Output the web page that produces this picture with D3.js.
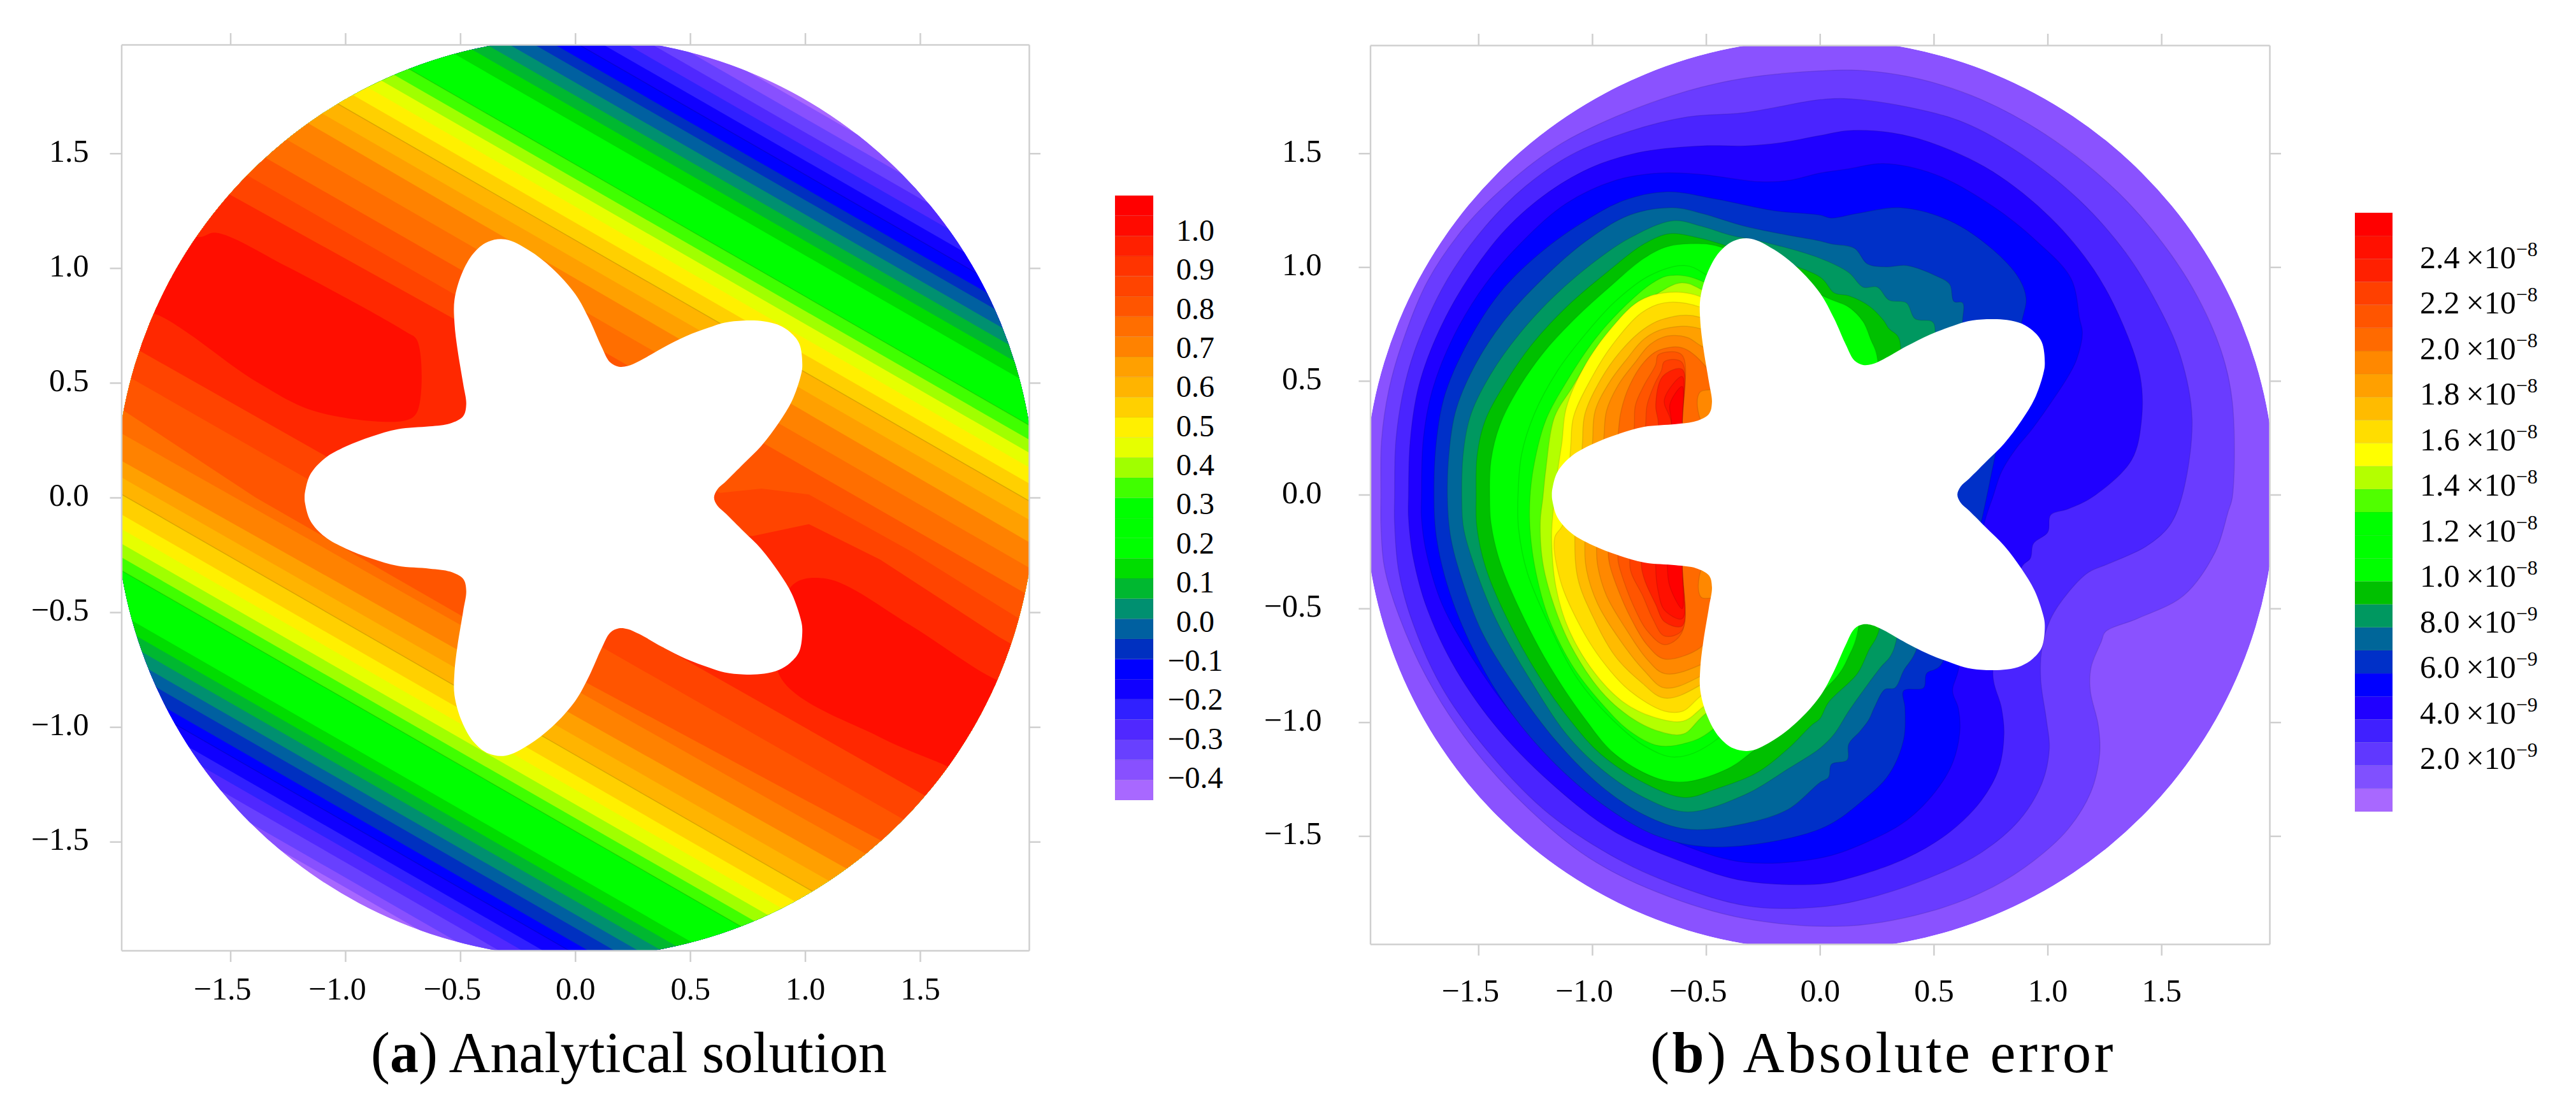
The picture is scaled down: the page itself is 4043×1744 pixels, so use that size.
<!DOCTYPE html>
<html>
<head>
<meta charset="utf-8">
<script src="https://cdn.jsdelivr.net/npm/d3@7"></script>
<style>
body { margin: 0; background: #fff; }
text { font-family: "Liberation Serif", serif; fill: #000; }
</style>
</head>
<body>
<svg id="chart" width="4043" height="1744"></svg>
<script>
const tickValues = [-1.5, -1.0, -0.5, 0.0, 0.5, 1.0, 1.5]

// hole in the domain, outline, in plot units
const star = [[.604,0],[.618,.035],[.656,.071],[.733,.148],[.809,.224],[.886,.326],[.943,.421],[.981,.53],[.988,.575],[.975,.67],[.936,.72],[.885,.752],[.822,.768],[.733,.771],[.65,.762],[.583,.741],[.482,.703],[.38,.652],[.279,.595],[.228,.573],[.19,.57],[.152,.589],[.114,.659],[.063,.773],[0,.887],[-.1,.999],[-.201,1.077],[-.303,1.125],[-.379,1.115],[-.442,1.065],[-.493,.976],[-.525,.862],[-.525,.76],[-.512,.646],[-.487,.494],[-.474,.406],[-.487,.355],[-.544,.323],[-.633,.31],[-.772,.298],[-.886,.266],[-.999,.222],[-1.089,.171],[-1.152,.101],[-1.175,.025],[-1.177,0],
    [-1.175,-.025],[-1.152,-.101],[-1.089,-.171],[-.999,-.222],[-.886,-.266],[-.772,-.298],[-.633,-.31],[-.544,-.323],[-.487,-.355],[-.474,-.406],[-.487,-.494],[-.512,-.646],[-.525,-.76],[-.525,-.862],[-.493,-.976],[-.442,-1.065],[-.379,-1.115],[-.303,-1.125],[-.201,-1.077],[-.1,-.999],[0,-.887],[.063,-.773],[.114,-.659],[.152,-.589],[.19,-.57],[.228,-.573],[.279,-.595],[.38,-.652],[.482,-.703],[.583,-.741],[.65,-.762],[.733,-.771],[.822,-.768],[.885,-.752],[.936,-.72],[.975,-.67],[.988,-.575],[.981,-.53],[.943,-.421],[.886,-.326],[.809,-.224],[.733,-.148],[.656,-.071],[.618,-.035]]

// panel a: colour bar, bottom cell first
const barAColors = ["#a868ff","#8850ff","#6840ff","#5028ff","#3020ff","#1000ff","#0000ff","#0030c0","#0060a0","#009070","#00b830","#00dd00","#00ff00","#00ff00","#00ff00","#40ff00","#a0ff00","#e6ff00","#fff000","#ffd000","#ffb400","#ffa000","#ff8200","#ff6e00","#ff5500","#ff4400","#ff3400","#ff2000","#ff0a00","#ff0000"]
const barALabels = [1.0, 0.9, 0.8, 0.7, 0.6, 0.5, 0.4, 0.3, 0.2, 0.1, 0.0, -0.1, -0.2, -0.3, -0.4]

// panel a: the field is a ridge, each level is the strip between an upper and a lower contour
const aColors = ["#8850ff","#6840ff","#5028ff","#3020ff","#1000ff","#0000ff","#0030c0","#0060a0","#009070","#00b830","#00dd00","#00ff00","#40ff00","#a0ff00","#e6ff00","#fff000","#ffd000","#ffb400","#ffa000","#ff8200","#ff6e00","#ff5500","#ff4400","#ff2800"]
const aUpper = [
    [[-2.3,3.613],[2.3,.965]],
    [[-2.3,3.552],[2.3,.904]],
    [[-2.3,3.491],[2.3,.843]],
    [[-2.3,3.429],[2.3,.781]],
    [[-2.3,3.368],[2.3,.72]],
    [[-2.3,3.307],[2.3,.659]],
    [[-2.3,3.247],[2.3,.599]],
    [[-2.3,3.196],[2.3,.548]],
    [[-2.3,3.133],[2.3,.485]],
    [[-2.3,3.076],[2.3,.428]],
    [[-2.3,3.018],[2.3,.37]],
    [[-2.3,2.955],[2.3,.307]],
    [[-2.3,2.776],[2.3,.128]],
    [[-2.3,2.713],[2.3,.065]],
    [[-2.3,2.656],[2.3,.008]],
    [[-2.3,2.592],[2.3,-.056]],
    [[-2.3,2.522],[2.3,-.126]],
    [[-2.3,2.446],[2.3,-.202]],
    [[-2.3,2.364],[2.3,-.284]],
    [[-2.3,2.294],[2.3,-.384]],
    [[-2.3,2.164],[2.3,-.494]],
    [[-2.3,2.028],[2.3,-.614]],
    [[-2.3,1.907],[-.5,.871],[-.2,.5],[.63,.02],[.811,.039],[1.017,.013],[1.456,-.232],[1.933,-.529],[2.3,-.74]],
    [[-2.3,1.764],[-.519,.774],[-.2,.4],[.5,-.15],[.772,-.168],[1.017,-.116],[1.327,-.271],[1.843,-.607],[2.3,-.87]]
]
const aLower = [
    [[2.3,-3.599],[-2.3,-.951]],
    [[2.3,-3.556],[-2.3,-.908]],
    [[2.3,-3.489],[-2.3,-.841]],
    [[2.3,-3.431],[-2.3,-.783]],
    [[2.3,-3.379],[-2.3,-.731]],
    [[2.3,-3.314],[-2.3,-.666]],
    [[2.3,-3.266],[-2.3,-.618]],
    [[2.3,-3.2],[-2.3,-.552]],
    [[2.3,-3.141],[-2.3,-.493]],
    [[2.3,-3.082],[-2.3,-.434]],
    [[2.3,-3.026],[-2.3,-.378]],
    [[2.3,-2.97],[-2.3,-.322]],
    [[2.3,-2.778],[-2.3,-.13]],
    [[2.3,-2.721],[-2.3,-.073]],
    [[2.3,-2.661],[-2.3,-.013]],
    [[2.3,-2.597],[-2.3,.051]],
    [[2.3,-2.534],[-2.3,.114]],
    [[2.3,-2.446],[-2.3,.202]],
    [[2.3,-2.354],[-2.3,.274]],
    [[2.3,-2.248],[-2.3,.344]],
    [[2.3,-2.139],[-2.3,.464]],
    [[2.3,-2.016],[-.5,-.512],[-1.39,0],[-2.3,.601]],
    [[2.3,-1.902],[-2.3,.731]],
    [[2.3,-1.741],[-2.3,.87]]
]
// contours that show as a thin dark line in the reference
const aThinLines = [5, 12, 17]
const aPeaks = [
    [[-1.642,1.136],[-1.564,1.154],[-1.255,1.007],[-.738,.723],[-.687,.684],[-.687,.374],[-.738,.336],[-1.125,.374],[-1.384,.503],[-1.797,.787],[-2.1,.9],[-1.9,1.3]],
    [[1.817,-.787],[1.456,-.555],[1.094,-.354],[.94,-.387],[.888,-.774],[1.327,-1.045],[1.598,-1.162],[1.9,-1.3],[2.1,-.9]]
]
const aPeakColor = "#ff0e00"

// panel b: colour bar, bottom cell first
const barBColors = ["#a868ff","#8050ff","#6038ff","#4020ff","#2000ff","#0000ff","#0030c8","#006699","#009860","#00c000","#00ff00","#00ff00","#00ff00","#50ff00","#b4ff00","#ffff00","#ffdd00","#ffbb00","#ffa000","#ff8800","#ff6a00","#ff5500","#ff4000","#ff2000","#ff1000","#ff0000"]
const barBValues = [2.4e-8, 2.2e-8, 2.0e-8, 1.8e-8, 1.6e-8, 1.4e-8, 1.2e-8, 1.0e-8, 8.0e-9, 6.0e-9, 4.0e-9, 2.0e-9]
const barBMantissa = ["2.4", "2.2", "2.0", "1.8", "1.6", "1.4", "1.2", "1.0", "8.0", "6.0", "4.0", "2.0"]
const barBExponent = ["−8", "−8", "−8", "−8", "−8", "−8", "−8", "−8", "−9", "−9", "−9", "−9"]

// panel b: closed contours, coldest first. Where a contour meets the hole it runs on under it
const bColors = ["#6a3cff","#4a24ff","#2000ff","#0000ff","#0030c8","#006699","#009860","#00c000","#00ff00","#00ff00","#50ff00","#b4ff00","#ffff00","#ffdd00","#ffbb00","#ffa000","#ff8800","#ff6a00","#ff5500","#ff4000","#ff2000","#ff1000","#ff0000"]
const bContours = [
    [[-1.928,-.01],[-1.925,.241],[-1.894,.456],[-1.837,.659],[-1.723,.938],[-1.558,1.179],[-1.368,1.369],[-1.152,1.533],[-.899,1.66],[-.582,1.774],[-.328,1.831],[.011,1.863],[.203,1.863],[.444,1.825],[.71,1.736],[.989,1.584],[1.267,1.369],[1.458,1.166],[1.635,.912],[1.762,.634],[1.812,.405],[1.812,-.01],[1.793,-.076],[1.736,-.253],[1.597,-.444],[1.394,-.545],[1.255,-.602],[1.236,-.646],[1.191,-.76],[1.188,-.862],[1.223,-1.014],[1.229,-1.141],[1.191,-1.305],[1.09,-1.47],[.938,-1.61],[.76,-1.724],[.507,-1.825],[.127,-1.895],[-.328,-1.863],[-.709,-1.749],[-1.013,-1.597],[-1.279,-1.381],[-1.532,-1.103],[-1.723,-.811],[-1.849,-.532],[-1.913,-.317],[-1.928,-.127]],
    [[-1.868,-.01],[-1.862,.241],[-1.824,.481],[-1.761,.684],[-1.634,.95],[-1.469,1.179],[-1.292,1.356],[-1.089,1.495],[-.835,1.597],[-.582,1.66],[-.328,1.679],[0,1.736],[.127,1.74],[.38,1.705],[.634,1.635],[.887,1.495],[1.141,1.293],[1.343,1.064],[1.483,.836],[1.584,.608],[1.635,.329],[1.59,-.01],[1.534,-.139],[1.432,-.228],[1.267,-.304],[1.179,-.342],[1.09,-.431],[1.014,-.545],[.976,-.672],[.97,-.811],[.995,-.989],[1.008,-1.115],[.976,-1.267],[.875,-1.432],[.71,-1.572],[.507,-1.673],[.253,-1.762],[0,-1.812],[-.328,-1.806],[-.709,-1.686],[-.962,-1.559],[-1.216,-1.381],[-1.469,-1.115],[-1.659,-.849],[-1.786,-.57],[-1.849,-.342],[-1.868,-.127]],
    [[-1.807,-.01],[-1.799,.241],[-1.761,.481],[-1.672,.722],[-1.545,.95],[-1.38,1.166],[-1.19,1.331],[-.987,1.445],[-.772,1.508],[-.518,1.533],[-.328,1.533],[-.176,1.546],[0,1.578],[.127,1.6],[.317,1.59],[.507,1.54],[.76,1.419],[1.014,1.216],[1.204,.988],[1.331,.748],[1.407,.52],[1.413,.329],[1.369,.152],[1.198,-.01],[1.09,-.063],[1.014,-.089],[1.001,-.165],[.938,-.215],[.925,-.279],[.887,-.317],[.76,-.78],[.798,-.938],[.809,-1.052],[.786,-1.204],[.71,-1.343],[.57,-1.483],[.38,-1.597],[.127,-1.686],[0,-1.711],[-.328,-1.698],[-.582,-1.622],[-.899,-1.483],[-1.152,-1.293],[-1.406,-1.039],[-1.596,-.773],[-1.723,-.507],[-1.786,-.279],[-1.807,-.101]],
    [[-1.75,-.01],[-1.742,.241],[-1.703,.456],[-1.608,.697],[-1.469,.925],[-1.304,1.115],[-1.114,1.28],[-.899,1.381],[-.708,1.413],[-.518,1.407],[-.265,1.375],[-.138,1.381],[0,1.413],[.127,1.432],[.279,1.455],[.507,1.407],[.76,1.267],[.951,1.115],[1.103,.95],[1.141,.773],[1.153,.71],[1.128,.595],[1.09,.519],[.989,.367],[.925,.279],[.862,.203],[.798,.101],[.76,-.01],[.722,-.127],[.608,-.773],[.583,-.862],[.608,-.938],[.615,-1.039],[.583,-1.179],[.507,-1.305],[.38,-1.432],[.19,-1.534],[0,-1.597],[-.328,-1.616],[-.582,-1.546],[-.835,-1.42],[-1.089,-1.242],[-1.342,-.976],[-1.532,-.71],[-1.659,-.482],[-1.729,-.253],[-1.75,-.101]],
    [[-1.695,-.01],[-1.684,.241],[-1.646,.443],[-1.545,.672],[-1.406,.887],[-1.241,1.052],[-1.051,1.191],[-.861,1.293],[-.67,1.331],[-.455,1.299],[-.2,1.248],[0,1.229],[.05,1.216],[.165,1.236],[.355,1.261],[.57,1.204],[.76,1.077],[.875,.95],[.906,.862],[.887,.76],[.532,-.748],[.469,-.786],[.456,-.849],[.368,-.862],[.374,-.938],[.368,-1.077],[.304,-1.229],[.19,-1.343],[0,-1.47],[-.455,-1.549],[-.709,-1.502],[-.962,-1.356],[-1.216,-1.128],[-1.406,-.887],[-1.545,-.634],[-1.634,-.406],[-1.684,-.19]],
    [[-1.636,-.01],[-1.627,.203],[-1.596,.38],[-1.507,.583],[-1.38,.773],[-1.216,.95],[-1.026,1.115],[-.835,1.229],[-.645,1.261],[-.518,1.236],[-.328,1.179],[-.138,1.14],[0,1.115],[.05,1.102],[.152,1.083],[.209,1.014],[.292,1.001],[.38,1.007],[.507,.963],[.57,.925],[.589,.849],[.627,.843],[.627,.767],[.425,-.678],[.368,-.773],[.33,-.849],[.285,-.856],[.241,-.932],[.215,-.989],[.177,-1.039],[.127,-1.096],[.12,-1.166],[.051,-1.185],[.038,-1.242],[0,-1.265],[-.138,-1.382],[-.328,-1.445],[-.582,-1.47],[-.772,-1.407],[-.962,-1.28],[-1.152,-1.09],[-1.342,-.837],[-1.482,-.608],[-1.57,-.38],[-1.621,-.19]],
    [[-1.573,-.01],[-1.564,.203],[-1.532,.355],[-1.444,.532],[-1.317,.71],[-1.165,.874],[-.987,1.026],[-.835,1.128],[-.645,1.204],[-.518,1.179],[-.392,1.14],[-.265,1.115],[0,1.039],[.127,.976],[.19,.912],[.253,.912],[.304,.855],[.38,.843],[.418,.773],[.494,.76],[.507,.716],[.336,-.64],[.31,-.71],[.266,-.76],[.19,-.862],[.127,-.951],[.063,-1.052],[0,-1.115],[-.138,-1.204],[-.328,-1.318],[-.582,-1.394],[-.772,-1.331],[-.962,-1.204],[-1.114,-1.052],[-1.266,-.824],[-1.418,-.558],[-1.507,-.342],[-1.564,-.152]],
    [[-1.51,-.01],[-1.505,.177],[-1.469,.329],[-1.38,.494],[-1.266,.659],[-1.114,.824],[-.937,.976],[-.772,1.102],[-.658,1.147],[-.531,1.128],[-.417,1.096],[0,.957],[.063,.887],[.127,.874],[.215,.83],[.279,.767],[.304,.729],[.342,.697],[.355,.646],[.26,-.596],[.215,-.684],[.165,-.786],[.038,-.913],[0,-.985],[-.037,-1.014],[-.138,-1.115],[-.278,-1.223],[-.455,-1.293],[-.595,-1.331],[-.772,-1.267],[-.962,-1.141],[-1.089,-1.001],[-1.241,-.786],[-1.38,-.532],[-1.469,-.317],[-1.507,-.139]],
    [[-1.45,-.01],[-1.444,.152],[-1.406,.304],[-1.33,.456],[-1.216,.621],[-1.076,.773],[-.924,.912],[-.772,1.039],[-.67,1.09],[-.544,1.103],[-.442,1.09],[.038,.862],[.127,.824],[.19,.76],[.222,.685],[.253,.595],[.165,-.608],[.127,-.71],[.076,-.798],[-.303,-1.134],[-.404,-1.204],[-.582,-1.261],[-.71,-1.248],[-.899,-1.141],[-1.038,-.976],[-1.19,-.748],[-1.317,-.507],[-1.406,-.292],[-1.444,-.127]],
    [[-1.326,-.01],[-1.31,.177],[-1.254,.355],[-1.152,.545],[-1.026,.71],[-.899,.849],[-.747,.963],[-.595,1.007],[-.506,.97],[0,.5],[0,-.5],[-.455,-1.077],[-.633,-1.153],[-.772,-1.103],[-.924,-.976],[-1.063,-.811],[-1.178,-.596],[-1.285,-.342],[-1.323,-.152]],
    [[-1.273,-.01],[-1.254,.139],[-1.203,.329],[-1.114,.494],[-.987,.684],[-.861,.824],[-.734,.931],[-.658,.963],[-.518,.938],[0,.5],[0,-.5],[-.48,-1.039],[-.582,-1.09],[-.709,-1.103],[-.835,-1.039],[-.962,-.913],[-1.089,-.748],[-1.19,-.545],[-1.247,-.342],[-1.273,-.152]],
    [[-1.216,-.01],[-1.203,.114],[-1.165,.342],[-1.089,.469],[-.987,.634],[-.861,.773],[-.708,.887],[-.607,.931],[-.518,.9],[0,.5],[0,-.5],[-.518,-.976],[-.601,-1.052],[-.709,-1.039],[-.835,-.976],[-.962,-.862],[-1.089,-.672],[-1.165,-.494],[-1.216,-.304],[-1.228,-.127]],
    [[-1.152,.101],[-1.133,.228],[-1.114,.38],[-1.038,.557],[-.924,.722],[-.797,.849],[-.683,.887],[-.518,.868],[0,.5],[0,-.5],[-.512,-.932],[-.601,-.995],[-.734,-.976],[-.861,-.913],[-.987,-.786],[-1.101,-.596],[-1.159,-.406],[-1.178,-.19],[-1.171,-.07]],
    [[-1.095,.203],[-1.082,.342],[-.999,.52],[-.911,.659],[-.785,.798],[-.683,.843],[-.525,.824],[0,.5],[0,-.5],[-.525,-.887],[-.601,-.951],[-.683,-.951],[-.835,-.862],[-.962,-.722],[-1.063,-.558],[-1.139,-.38],[-1.165,-.19],[-1.127,-.127]],
    [[-1.044,.209],[-1.032,.354],[-.962,.507],[-.873,.633],[-.772,.729],[-.683,.773],[-.525,.779],[0,.4],[0,-.4],[-.525,-.837],[-.683,-.894],[-.785,-.824],[-.899,-.71],[-.999,-.532],[-1.063,-.368],[-1.076,-.165]],
    [[-.999,.222],[-.987,.368],[-.924,.494],[-.848,.596],[-.772,.684],[-.683,.729],[-.525,.729],[0,.4],[0,-.4],[-.525,-.798],[-.683,-.849],[-.772,-.773],[-.873,-.646],[-.975,-.482],[-1.025,-.33],[-1.032,-.209]],
    [[-.949,.241],[-.937,.368],[-.886,.481],[-.81,.583],[-.747,.659],[-.67,.697],[-.582,.691],[-.519,.652],[0,.4],[0,-.4],[-.525,-.748],[-.683,-.786],[-.76,-.722],[-.848,-.596],[-.937,-.444],[-.975,-.317],[-.981,-.234]],
    [[-.886,.266],[-.873,.368],[-.835,.481],[-.772,.583],[-.709,.634],[-.607,.646],[-.519,.583],[-.45,.47],[-.527,.45],[-.527,.336],[-.3,0],[-.522,-.33],[-.522,-.45],[-.45,-.46],[-.48,-.6],[-.525,-.672],[-.683,-.722],[-.76,-.659],[-.829,-.545],[-.886,-.418],[-.924,-.304],[-.93,-.247]],
    [[-.816,.285],[-.81,.393],[-.772,.481],[-.721,.57],[-.709,.615],[-.607,.615],[-.605,.3],[-.605,-.3],[-.607,-.608],[-.683,-.659],[-.76,-.596],[-.81,-.507],[-.861,-.38],[-.886,-.292],[-.886,-.26]],
    [[-.766,.298],[-.759,.393],[-.728,.481],[-.696,.545],[-.683,.585],[-.607,.583],[-.605,.3],[-.605,-.3],[-.605,-.596],[-.683,-.621],[-.734,-.545],[-.778,-.444],[-.829,-.342],[-.835,-.279]],
    [[-.709,.304],[-.721,.393],[-.69,.52],[-.605,.551],[-.605,.3],[-.605,-.3],[-.605,-.577],[-.683,-.558],[-.721,-.482],[-.772,-.368],[-.785,-.292]],
    [[-.651,.307],[-.683,.418],[-.605,.519],[-.605,.3],[-.605,-.3],[-.605,-.545],[-.683,-.507],[-.709,-.431],[-.721,-.304]],
    [[-.651,.31],[-.658,.4],[-.605,.475],[-.605,.3],[-.605,-.3],[-.605,-.501],[-.658,-.406],[-.67,-.31]]
]
const bDiscColor = "#8a52ff"

const TICK_COLOR = "#cfcfcf"
const TICK_SIZE = 18
const LABEL_SIZE = 50

const svg = d3.select("#chart")

function drawPanel(cfg){
    let {id, frame, yLabelPad, xLabelY, disc, layers} = cfg
    let x = d3.scaleLinear().domain(cfg.domain).range([frame.left, frame.right])
    let y = d3.scaleLinear().domain(cfg.domain).range([frame.bottom, frame.top])

    let g = svg.append("g").attr("class", "panel-" + id)

    // clip to the frame and to the disc, radius 2 is a bit bigger than the frame
    let defs = g.append("defs")
    defs.append("clipPath").attr("id", "frame-" + id)
        .append("rect")
        .attr("x", frame.left).attr("y", frame.top)
        .attr("width", frame.right - frame.left)
        .attr("height", frame.bottom - frame.top)
    defs.append("clipPath").attr("id", "disc-" + id)
        .append("circle")
        .attr("cx", x(0)).attr("cy", y(0)).attr("r", x(2) - x(0))

    let field = g.append("g").attr("clip-path", `url(#frame-${id})`)
        .append("g").attr("clip-path", `url(#disc-${id})`)

    field.append("circle")
        .attr("cx", x(0)).attr("cy", y(0)).attr("r", x(2) - x(0))
        .attr("fill", disc)

    let smooth = d3.line().x(d => x(d[0])).y(d => y(d[1]))
        .curve(d3.curveCatmullRomClosed.alpha(0.5))
    let straight = d3.line().x(d => x(d[0])).y(d => y(d[1])).curve(d3.curveLinearClosed)
    let open = d3.line().x(d => x(d[0])).y(d => y(d[1]))

    field.selectAll("path.level")
        .data(layers)
        .join("path")
        .attr("class", "level")
        .attr("d", d => d.straight ? straight(d.points) : smooth(d.points))
        .attr("fill", d => d.color)
        .attr("stroke", cfg.levelStroke || "none")
        .attr("stroke-width", 1.5)

    if(cfg.thinLines){
        field.selectAll("path.thin")
            .data(cfg.thinLines)
            .join("path")
            .attr("class", "thin")
            .attr("d", open)
            .attr("fill", "none")
            .attr("stroke", "rgba(0,0,0,0.14)")
            .attr("stroke-width", 1.5)
    }

    // hole
    field.append("path")
        .attr("d", smooth(star))
        .attr("fill", "#fff")

    // axes on all four sides, labels only left and bottom
    let fmt = d3.format(".1f")
    let axes = [
        {axis: d3.axisLeft(y).tickFormat(fmt).tickPadding(yLabelPad), at: [frame.left, 0], name: "left"},
        {axis: d3.axisBottom(x).tickFormat(fmt).tickPadding(0), at: [0, frame.bottom], name: "bottom"},
        {axis: d3.axisRight(y).tickFormat(""), at: [frame.right, 0], name: "right"},
        {axis: d3.axisTop(x).tickFormat(""), at: [0, frame.top], name: "top"}
    ]
    axes.forEach(a => {
        let ag = g.append("g")
            .attr("class", "axis-" + a.name)
            .attr("transform", `translate(${a.at[0]},${a.at[1]})`)
            .call(a.axis.tickValues(tickValues).tickSize(TICK_SIZE).tickSizeOuter(0))
        ag.selectAll("path, line").attr("stroke", TICK_COLOR).attr("stroke-width", 2.5)
        ag.selectAll("text").attr("font-size", LABEL_SIZE).attr("font-family", null)
        ag.attr("font-family", null).attr("font-size", null)
    })
    g.select(".axis-left").selectAll("text").attr("dy", "0.25em")
    g.select(".axis-bottom").selectAll("text")
        .attr("y", xLabelY - frame.bottom)
        .attr("dy", 0)
        .attr("dx", d => d < 0 ? -13 : 0)
}

function drawBar(box, colors){
    let band = d3.scaleBand().domain(d3.range(colors.length)).range([box.bottom, box.top])
    svg.append("g").selectAll("rect")
        .data(colors)
        .join("rect")
        .attr("x", box.left)
        .attr("y", (d, i) => band(i))
        .attr("width", box.right - box.left)
        .attr("height", band.bandwidth())
        .attr("fill", d => d)
        .attr("stroke", "rgba(0,0,0,0.05)")
}

// panel a
let aLayers = aColors.map((c, i) => ({color: c, straight: true, points: aUpper[i].concat(aLower[i])}))
aPeaks.forEach(p => aLayers.push({color: aPeakColor, points: p}))
drawPanel({
    id: "a",
    domain: [-1.974, 1.974],
    frame: {left: 190.5, right: 1615, top: 70, bottom: 1492},
    yLabelPad: 33,
    xLabelY: 1569,
    disc: barAColors[0],
    layers: aLayers,
    thinLines: aThinLines.flatMap(i => [aUpper[i], aLower[i]])
})

// panel b
drawPanel({
    id: "b",
    domain: [-1.975, 1.975],
    frame: {left: 2150.5, right: 3562, top: 71, bottom: 1482},
    yLabelPad: 58,
    xLabelY: 1572,
    disc: bDiscColor,
    levelStroke: "rgba(0,0,0,0.1)",
    layers: bColors.map((c, i) => ({color: c, points: bContours[i]}))
})

// colour bars
drawBar({left: 1750, right: 1810, top: 307, bottom: 1256}, barAColors)
drawBar({left: 3696, right: 3755, top: 334, bottom: 1274}, barBColors)

let barAY = d3.scaleLinear().domain([-0.4, 1.0]).range([1220.7, 361.6])
svg.append("g").selectAll("text")
    .data(barALabels)
    .join("text")
    .attr("x", 1876)
    .attr("y", d => barAY(d))
    .attr("dy", "0.34em")
    .attr("text-anchor", "middle")
    .attr("font-size", 48)
    .text(d3.format(".1f"))

let barBY = d3.scaleLinear().domain([2e-9, 2.4e-8]).range([1190, 404])
let barBText = svg.append("g").selectAll("text")
    .data(barBValues)
    .join("text")
    .attr("x", 3798)
    .attr("y", d => barBY(d))
    .attr("dy", "0.34em")
    .attr("font-size", 50)
barBText.append("tspan").text((d, i) => barBMantissa[i] + "\u2009×10")
barBText.append("tspan")
    .attr("dy", -19)
    .attr("font-size", 32)
    .text((d, i) => barBExponent[i])

// captions
function caption(x, letter, rest, spacing){
    let t = svg.append("text")
        .attr("x", x)
        .attr("y", 1683)
        .attr("font-size", 90)
        .attr("letter-spacing", spacing)
    t.append("tspan").text("(")
    t.append("tspan").attr("font-weight", "bold").text(letter)
    t.append("tspan").text(") " + rest)
}
caption(582, "a", "Analytical solution", 0)
caption(2590, "b", "Absolute error", 4.5)
</script>
</body>
</html>
